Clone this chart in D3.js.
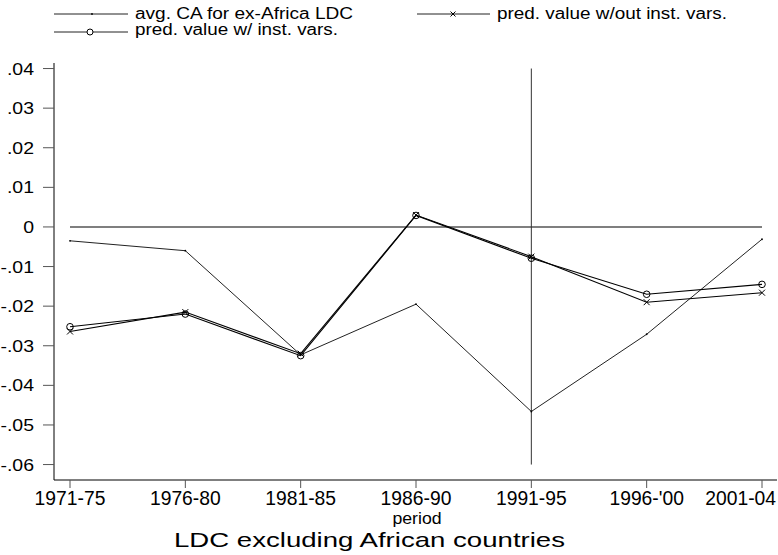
<!DOCTYPE html>
<html><head><meta charset="utf-8">
<script src="https://cdn.jsdelivr.net/npm/d3@7"></script>
<style>body{margin:0;background:#fff}svg{display:block;font-family:"Liberation Sans",Arial,sans-serif}</style>
</head><body>
<svg id="c" width="778" height="555"></svg>
<script>
const periods = ["1971-75","1976-80","1981-85","1986-90","1991-95","1996-'00","2001-04"];
const avgCA = [-0.0035,-0.0060,-0.0323,-0.0195,-0.0466,-0.0271,-0.0031];
const predInst = [-0.0252,-0.0220,-0.0325,0.0029,-0.0079,-0.0170,-0.0145];
const predNoInst = [-0.0264,-0.0215,-0.0320,0.0030,-0.0075,-0.0190,-0.0166];
const yTicks = [0.04,0.03,0.02,0.01,0,-0.01,-0.02,-0.03,-0.04,-0.05,-0.06];
const yTickLabels = [".04",".03",".02",".01","0","-.01","-.02","-.03","-.04","-.05","-.06"];
const legendLabels = ["avg. CA for ex-Africa LDC","pred. value w/ inst. vars.","pred. value w/out inst. vars."];
const xTitle = "period";
const chartTitle = "LDC excluding African countries";
const vLineAt = "1991-95";

const svg = d3.select("#c");
const x = d3.scalePoint().domain(periods).range([70, 762]);
const y = d3.scaleLinear().domain([-0.0639, 0.0414]).range([480, 63]);

function stretch(sel, f){ sel.each(function(){ const w=this.getComputedTextLength(); this.setAttribute("textLength", w*f); this.setAttribute("lengthAdjust","spacingAndGlyphs"); }); }

// axes lines
svg.append("line").attr("x1",54).attr("x2",54).attr("y1",63).attr("y2",480).attr("stroke","#000");
svg.append("line").attr("x1",54).attr("x2",777).attr("y1",480).attr("y2",480).attr("stroke","#000");

// y ticks
const yt = svg.append("g");
yTicks.forEach((v,i)=>{
  yt.append("line").attr("x1",43).attr("x2",54).attr("y1",y(v)).attr("y2",y(v)).attr("stroke","#555");
});
yt.selectAll("text").data(yTicks).join("text")
  .attr("x",34).attr("y",v=>y(v)+6).attr("text-anchor","end")
  .attr("font-size",16.5).attr("fill","#000").text((v,i)=>yTickLabels[i]).call(stretch,1.18);

// x ticks
periods.forEach(p=>{
  svg.append("line").attr("x1",x(p)).attr("x2",x(p)).attr("y1",480).attr("y2",488).attr("stroke","#555");
});
svg.append("g").selectAll("text").data(periods).join("text")
  .attr("x",(p,i)=> i===periods.length-1 ? 776 : x(p))
  .attr("y",505).attr("text-anchor",(p,i)=> i===periods.length-1 ? "end":"middle")
  .attr("font-size",19.3).text(p=>p);

svg.append("text").attr("x",417).attr("y",524).attr("text-anchor","middle").attr("font-size",17).text(xTitle).call(stretch,1.04);
svg.append("text").attr("x",369.5).attr("y",547).attr("text-anchor","middle").attr("font-size",21).text(chartTitle)
  .attr("textLength",391).attr("lengthAdjust","spacingAndGlyphs");

// reference lines
svg.append("line").attr("x1",x(periods[0])).attr("x2",x(periods[periods.length-1])).attr("y1",y(0)).attr("y2",y(0))
  .attr("stroke","#7f7f7f").attr("stroke-width",2);
svg.append("line").attr("x1",x(vLineAt)).attr("x2",x(vLineAt)).attr("y1",y(0.04)).attr("y2",y(-0.06))
  .attr("stroke","#333").attr("stroke-width",1);

const line = d3.line().x((d,i)=>x(periods[i])).y(d=>y(d));
svg.append("path").datum(avgCA).attr("d",line).attr("fill","none").attr("stroke","#222").attr("stroke-width",1);
svg.append("path").datum(predInst).attr("d",line).attr("fill","none").attr("stroke","#000").attr("stroke-width",1.1);
svg.append("path").datum(predNoInst).attr("d",line).attr("fill","none").attr("stroke","#000").attr("stroke-width",1.1);

function xMark(g,cx,cy,s){
  g.append("path").attr("d",`M${cx-s},${cy-s}L${cx+s},${cy+s}M${cx-s},${cy+s}L${cx+s},${cy-s}`).attr("stroke","#000").attr("stroke-width",1).attr("fill","none");
}
const mk = svg.append("g");
avgCA.forEach((v,i)=> mk.append("circle").attr("cx",x(periods[i])).attr("cy",y(v)).attr("r",0.9).attr("fill","#000"));
predInst.forEach((v,i)=> mk.append("circle").attr("cx",x(periods[i])).attr("cy",y(v)).attr("r",3.3).attr("fill","none").attr("stroke","#000").attr("stroke-width",1));
predNoInst.forEach((v,i)=> xMark(mk,x(periods[i]),y(v),3));

// legend
const lg = svg.append("g");
lg.append("line").attr("x1",54).attr("x2",128).attr("y1",14).attr("y2",14).attr("stroke","#222");
lg.append("circle").attr("cx",92).attr("cy",14).attr("r",0.9).attr("fill","#000");
lg.append("text").attr("x",135).attr("y",18.5).attr("font-size",16).text(legendLabels[0]).attr("textLength",218).attr("lengthAdjust","spacingAndGlyphs");

lg.append("line").attr("x1",54).attr("x2",128).attr("y1",32).attr("y2",32).attr("stroke","#222");
lg.append("circle").attr("cx",90).attr("cy",32).attr("r",3).attr("fill","#fff").attr("stroke","#000");
lg.append("text").attr("x",135).attr("y",35).attr("font-size",16).text(legendLabels[1]).attr("textLength",203).attr("lengthAdjust","spacingAndGlyphs");

lg.append("line").attr("x1",417).attr("x2",490).attr("y1",14).attr("y2",14).attr("stroke","#222");
xMark(lg,453,14,2.5);
lg.append("text").attr("x",497).attr("y",18.5).attr("font-size",16).text(legendLabels[2]).attr("textLength",230).attr("lengthAdjust","spacingAndGlyphs");
</script>
</body></html>
